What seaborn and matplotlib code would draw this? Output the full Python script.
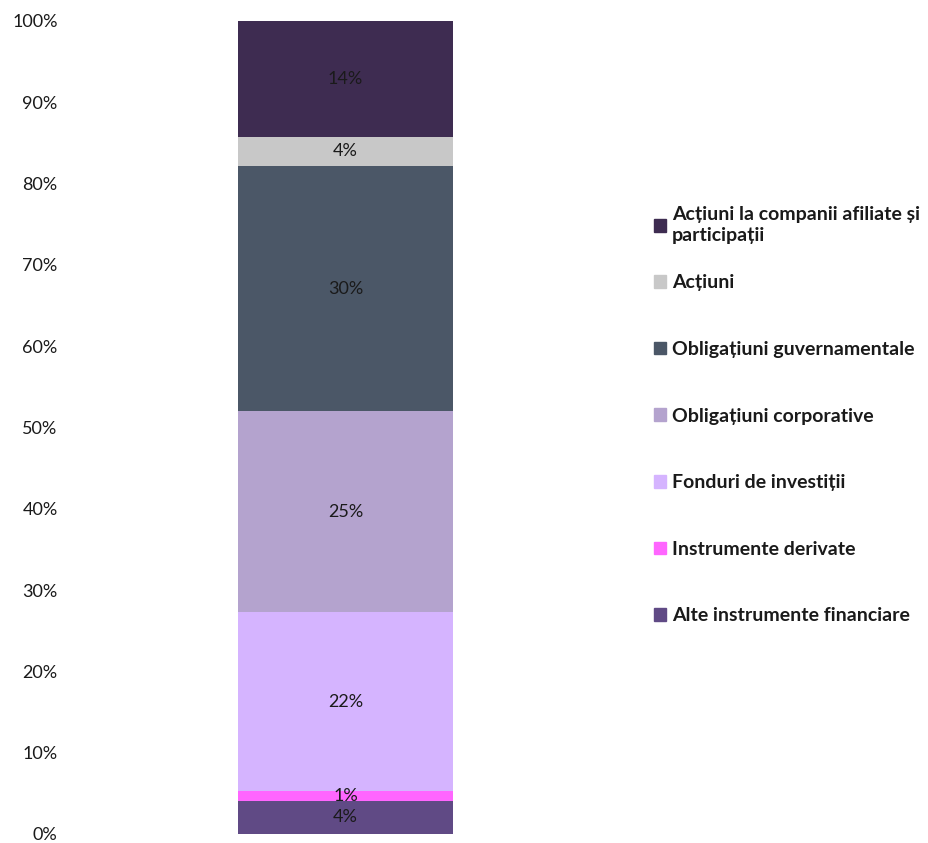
import numpy as np
import pandas as pd
import matplotlib
matplotlib.use("Agg")
import matplotlib.pyplot as plt
import seaborn as sns

# Segments listed bottom to top
categorii = ["Alte instrumente financiare", "Instrumente derivate", "Fonduri de investiții",
             "Obligațiuni corporative", "Obligațiuni guvernamentale", "Acțiuni",
             "Acțiuni la companii afiliate și\nparticipații"]
procente = [4.06, 1.23, 22.0, 24.7, 30.2, 3.55, 14.26]
culori = ["#604A85", "#FF66FF", "#D5B4FF", "#B4A3CE", "#4B5767", "#C8C8C8", "#3E2C51"]
etichete_y = ["0%", "10%", "20%", "30%", "40%", "50%", "60%", "70%", "80%", "90%", "100%"]

sns.set_theme(style="white")
plt.rcParams['font.family'] = ['Lato', 'DejaVu Sans']

df = pd.DataFrame({"categorie": categorii, "procent": procente})
df["cumulat"] = df["procent"].cumsum()
df["x"] = ""

fig = plt.figure(figsize=(9.29, 8.43), dpi=100)
ax = fig.add_axes([0.0754, 0.0107, 0.593, 0.9644])

# stacked bar: draw cumulative totals from the top down so each covers the rest
handles = []
for i in range(len(df) - 1, -1, -1):
    sns.barplot(data=df.iloc[[i]], x="x", y="cumulat", color=culori[i],
                width=0.39, saturation=1, ax=ax, errorbar=None, linewidth=0)
    handles.append(plt.Rectangle((0, 0), 1, 1, color=culori[i], label=categorii[i]))

# data labels at segment centres
for i, row in df.iterrows():
    mijloc = row["cumulat"] - row["procent"] / 2
    ax.text(0, mijloc, f"{round(row['procent']):.0f}%", ha="center", va="center",
            fontsize=13, color="#1a1a1a")

ax.set_xlim(-0.5, 0.5)
ax.set_ylim(0, 100)
ax.set_yticks(np.arange(0, 101, 10))
ax.set_yticklabels(etichete_y, fontsize=13, color="#1a1a1a")
ax.tick_params(axis="y", length=0, pad=9)
ax.set_xticks([])
ax.set_xlabel("")
ax.set_ylabel("")
sns.despine(ax=ax, left=True, bottom=True)

# legend in two blocks: the wrapped first entry, then the six one-line entries
stil = dict(frameon=False, handlelength=0.62, handleheight=0.62, handletextpad=0.31,
            borderpad=0, borderaxespad=0, prop={"weight": "bold", "size": 14})
leg1 = fig.legend(handles=handles[:1], loc="center left", bbox_to_anchor=(0.704, 0.733), **stil)
leg2 = fig.legend(handles=handles[1:], loc="center left", bbox_to_anchor=(0.704, 0.467),
                  labelspacing=2.55, **stil)
for leg in (leg1, leg2):
    for t in leg.get_texts():
        t.set_color("#1a1a1a")
        t.set_linespacing(1.3)

fig.savefig("out.png", dpi=100)
